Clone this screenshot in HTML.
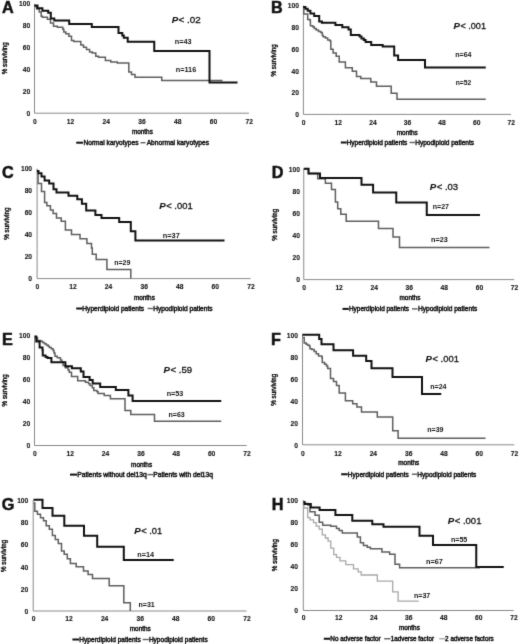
<!DOCTYPE html>
<html><head><meta charset="utf-8"><style>
html,body{margin:0;padding:0;background:#fff;}
svg{display:block;}
text{font-family:"Liberation Sans",sans-serif;fill:#111;stroke:#111;stroke-width:0.42px;}
</style></head><body>
<svg width="520" height="644" viewBox="0 0 520 644">
<defs><filter id="soft" color-interpolation-filters="sRGB" x="0" y="0" width="1" height="1"><feConvolveMatrix order="3" kernelMatrix="0.0114 0.084 0.0114 0.084 0.618 0.084 0.0114 0.084 0.0114" divisor="1" edgeMode="duplicate"/></filter></defs>
<g filter="url(#soft)">
<rect width="520" height="644" fill="#fff"/>
<line x1="34.50" y1="3.95" x2="34.50" y2="113.20" stroke="#8a8a8a" stroke-width="1.0"/>
<line x1="34.50" y1="113.20" x2="249.00" y2="113.20" stroke="#8a8a8a" stroke-width="1.0"/>
<text x="30.20" y="115.70" font-size="6.7" text-anchor="end" font-weight="bold" style="stroke-width:0.1px">0</text>
<text x="30.20" y="93.75" font-size="6.7" text-anchor="end" font-weight="bold" style="stroke-width:0.1px">20</text>
<text x="30.20" y="71.80" font-size="6.7" text-anchor="end" font-weight="bold" style="stroke-width:0.1px">40</text>
<text x="30.20" y="49.85" font-size="6.7" text-anchor="end" font-weight="bold" style="stroke-width:0.1px">60</text>
<text x="30.20" y="27.90" font-size="6.7" text-anchor="end" font-weight="bold" style="stroke-width:0.1px">80</text>
<text x="30.20" y="5.95" font-size="6.7" text-anchor="end" font-weight="bold" style="stroke-width:0.1px">100</text>
<text x="34.80" y="123.50" font-size="6.7" text-anchor="middle" font-weight="bold" style="stroke-width:0.1px">0</text>
<text x="70.55" y="123.50" font-size="6.7" text-anchor="middle" font-weight="bold" style="stroke-width:0.1px">12</text>
<text x="106.30" y="123.50" font-size="6.7" text-anchor="middle" font-weight="bold" style="stroke-width:0.1px">24</text>
<text x="142.05" y="123.50" font-size="6.7" text-anchor="middle" font-weight="bold" style="stroke-width:0.1px">36</text>
<text x="177.80" y="123.50" font-size="6.7" text-anchor="middle" font-weight="bold" style="stroke-width:0.1px">48</text>
<text x="213.55" y="123.50" font-size="6.7" text-anchor="middle" font-weight="bold" style="stroke-width:0.1px">60</text>
<text x="249.30" y="123.50" font-size="6.7" text-anchor="middle" font-weight="bold" style="stroke-width:0.1px">72</text>
<text x="142.40" y="134.34" font-size="6.4" text-anchor="middle" font-weight="normal" textLength="21.00" lengthAdjust="spacingAndGlyphs">months</text>
<text transform="translate(6.85,58.25) rotate(-90)" font-size="6.8" text-anchor="middle" textLength="32.2" lengthAdjust="spacingAndGlyphs">% surviving</text>
<text x="1.95" y="12.80" font-size="16.2" text-anchor="start" font-weight="bold" style="stroke-width:0.5px">A</text>
<text x="171.65" y="23.29" font-size="9.6" font-style="italic" font-weight="bold" style="stroke-width:0.1px">P</text>
<text x="178.60" y="23.29" font-size="9.6" style="stroke-width:0.3px" textLength="22.20" lengthAdjust="spacingAndGlyphs">&lt; .02</text>
<text x="174.70" y="44.18" font-size="7.2" text-anchor="start" font-weight="bold" textLength="16.85" lengthAdjust="spacingAndGlyphs" style="stroke-width:0">n=43</text>
<text x="175.70" y="72.28" font-size="7.2" text-anchor="start" font-weight="bold" textLength="20.60" lengthAdjust="spacingAndGlyphs" style="stroke-width:0">n=116</text>
<line x1="76.25" y1="142.70" x2="83.00" y2="142.70" stroke="#111" stroke-width="2.0"/>
<text x="83.45" y="144.96" font-size="6.3" text-anchor="start" font-weight="normal" textLength="55.10" lengthAdjust="spacingAndGlyphs">Normal karyotypes</text>
<line x1="140.50" y1="142.70" x2="145.50" y2="142.70" stroke="#5e5e5e" stroke-width="1.4"/>
<text x="146.70" y="144.96" font-size="6.3" text-anchor="start" font-weight="normal" textLength="62.30" lengthAdjust="spacingAndGlyphs">Abnormal karyotypes</text>
<path d="M34.70,6.50H36.60V8.80H39.30V11.90H41.20V16.20H42.40V17.30H47.40V19.20H50.50V23.10H53.50V26.20H57.40V27.30H62.80V29.20H63.80V31.90H65.80V33.80H68.90V36.20H71.50V40.40H73.80V41.50H80.80V45.00H83.50V47.30H86.50V49.60H89.60V51.90H92.30V53.10H95.80V56.20H98.50V57.30H105.40V60.40H110.80V61.90H117.30V63.10H128.80V71.90H131.50V74.60H135.00V77.30H161.75V80.50H222.50" fill="none" stroke="#5e5e5e" stroke-width="1.5" stroke-linejoin="miter" stroke-linecap="butt"/>
<path d="M34.30,5.40H37.50V8.30H42.40V10.80H48.20V12.70H50.80V18.50H54.30V20.60H69.20V24.00H91.80V26.90H118.50V33.10H122.30V35.40H123.80V37.70H127.70V41.80H154.25V51.00H209.50V82.50H237.50" fill="none" stroke="#111" stroke-width="2.0" stroke-linejoin="miter" stroke-linecap="butt"/>
<line x1="303.40" y1="5.50" x2="303.40" y2="114.40" stroke="#8a8a8a" stroke-width="1.0"/>
<line x1="303.40" y1="114.40" x2="511.00" y2="114.40" stroke="#8a8a8a" stroke-width="1.0"/>
<text x="299.00" y="117.00" font-size="6.7" text-anchor="end" font-weight="bold" style="stroke-width:0.1px">0</text>
<text x="299.00" y="95.28" font-size="6.7" text-anchor="end" font-weight="bold" style="stroke-width:0.1px">20</text>
<text x="299.00" y="73.56" font-size="6.7" text-anchor="end" font-weight="bold" style="stroke-width:0.1px">40</text>
<text x="299.00" y="51.84" font-size="6.7" text-anchor="end" font-weight="bold" style="stroke-width:0.1px">60</text>
<text x="299.00" y="30.12" font-size="6.7" text-anchor="end" font-weight="bold" style="stroke-width:0.1px">80</text>
<text x="299.00" y="8.40" font-size="6.7" text-anchor="end" font-weight="bold" style="stroke-width:0.1px">100</text>
<text x="303.70" y="124.50" font-size="6.7" text-anchor="middle" font-weight="bold" style="stroke-width:0.1px">0</text>
<text x="338.30" y="124.50" font-size="6.7" text-anchor="middle" font-weight="bold" style="stroke-width:0.1px">12</text>
<text x="372.90" y="124.50" font-size="6.7" text-anchor="middle" font-weight="bold" style="stroke-width:0.1px">24</text>
<text x="407.50" y="124.50" font-size="6.7" text-anchor="middle" font-weight="bold" style="stroke-width:0.1px">36</text>
<text x="442.10" y="124.50" font-size="6.7" text-anchor="middle" font-weight="bold" style="stroke-width:0.1px">48</text>
<text x="476.70" y="124.50" font-size="6.7" text-anchor="middle" font-weight="bold" style="stroke-width:0.1px">60</text>
<text x="511.30" y="124.50" font-size="6.7" text-anchor="middle" font-weight="bold" style="stroke-width:0.1px">72</text>
<text x="407.25" y="135.34" font-size="6.4" text-anchor="middle" font-weight="normal" textLength="21.00" lengthAdjust="spacingAndGlyphs">months</text>
<text transform="translate(275.80,60.45) rotate(-90)" font-size="6.8" text-anchor="middle" textLength="32.2" lengthAdjust="spacingAndGlyphs">% surviving</text>
<text x="270.95" y="12.80" font-size="16.2" text-anchor="start" font-weight="bold" style="stroke-width:0.5px">B</text>
<text x="453.50" y="28.84" font-size="9.6" font-style="italic" font-weight="bold" style="stroke-width:0.1px">P</text>
<text x="460.45" y="28.84" font-size="9.6" style="stroke-width:0.3px" textLength="25.50" lengthAdjust="spacingAndGlyphs">&lt; .001</text>
<text x="455.20" y="57.28" font-size="7.2" text-anchor="start" font-weight="bold" textLength="16.35" lengthAdjust="spacingAndGlyphs" style="stroke-width:0">n=64</text>
<text x="455.70" y="85.28" font-size="7.2" text-anchor="start" font-weight="bold" textLength="15.60" lengthAdjust="spacingAndGlyphs" style="stroke-width:0">n=52</text>
<line x1="340.80" y1="142.50" x2="346.80" y2="142.50" stroke="#111" stroke-width="2.0"/>
<text x="346.70" y="144.76" font-size="6.3" text-anchor="start" font-weight="normal" textLength="60.60" lengthAdjust="spacingAndGlyphs">Hyperdiploid patients</text>
<line x1="409.60" y1="142.50" x2="415.00" y2="142.50" stroke="#5e5e5e" stroke-width="1.4"/>
<text x="415.20" y="144.76" font-size="6.3" text-anchor="start" font-weight="normal" textLength="58.90" lengthAdjust="spacingAndGlyphs">Hypodiploid patients</text>
<path d="M303.20,8.40H303.80V14.00H307.70V19.50H310.00V20.30H310.40V25.70H312.70V26.80H314.20V28.40H316.20V29.90H318.50V31.50H320.80V32.60H322.30V35.30H323.10V36.80H325.40V38.00H327.70V39.90H330.00V41.10H330.80V49.20H333.10V53.10H336.20V56.20H339.20V62.00H345.40V67.70H352.30V71.20H356.50V76.50H360.80V78.60H370.80V81.90H376.50V86.30H391.20V93.30H397.00V99.20H485.75" fill="none" stroke="#5e5e5e" stroke-width="1.5" stroke-linejoin="miter" stroke-linecap="butt"/>
<path d="M303.10,7.00H305.40V8.80H307.70V10.70H310.40V13.40H314.20V16.10H319.20V21.50H321.90V22.80H335.40V24.90H342.30V27.30H348.50V29.60H350.80V35.00H359.60V36.50H361.50V38.50H363.80V40.00H365.60V41.90H371.20V45.10H382.70V46.60H394.20V55.40H398.10V60.00H425.00V67.50H485.75" fill="none" stroke="#111" stroke-width="2.0" stroke-linejoin="miter" stroke-linecap="butt"/>
<line x1="37.10" y1="168.60" x2="37.10" y2="278.60" stroke="#8a8a8a" stroke-width="1.0"/>
<line x1="37.10" y1="278.60" x2="250.60" y2="278.60" stroke="#8a8a8a" stroke-width="1.0"/>
<text x="32.10" y="281.00" font-size="6.7" text-anchor="end" font-weight="bold" style="stroke-width:0.1px">0</text>
<text x="32.10" y="259.03" font-size="6.7" text-anchor="end" font-weight="bold" style="stroke-width:0.1px">20</text>
<text x="32.10" y="237.06" font-size="6.7" text-anchor="end" font-weight="bold" style="stroke-width:0.1px">40</text>
<text x="32.10" y="215.09" font-size="6.7" text-anchor="end" font-weight="bold" style="stroke-width:0.1px">60</text>
<text x="32.10" y="193.12" font-size="6.7" text-anchor="end" font-weight="bold" style="stroke-width:0.1px">80</text>
<text x="32.10" y="171.15" font-size="6.7" text-anchor="end" font-weight="bold" style="stroke-width:0.1px">100</text>
<text x="37.40" y="288.50" font-size="6.7" text-anchor="middle" font-weight="bold" style="stroke-width:0.1px">0</text>
<text x="72.98" y="288.50" font-size="6.7" text-anchor="middle" font-weight="bold" style="stroke-width:0.1px">12</text>
<text x="108.57" y="288.50" font-size="6.7" text-anchor="middle" font-weight="bold" style="stroke-width:0.1px">24</text>
<text x="144.15" y="288.50" font-size="6.7" text-anchor="middle" font-weight="bold" style="stroke-width:0.1px">36</text>
<text x="179.73" y="288.50" font-size="6.7" text-anchor="middle" font-weight="bold" style="stroke-width:0.1px">48</text>
<text x="215.32" y="288.50" font-size="6.7" text-anchor="middle" font-weight="bold" style="stroke-width:0.1px">60</text>
<text x="250.90" y="288.50" font-size="6.7" text-anchor="middle" font-weight="bold" style="stroke-width:0.1px">72</text>
<text x="144.40" y="299.84" font-size="6.4" text-anchor="middle" font-weight="normal" textLength="21.00" lengthAdjust="spacingAndGlyphs">months</text>
<text transform="translate(9.40,223.65) rotate(-90)" font-size="6.8" text-anchor="middle" textLength="32.2" lengthAdjust="spacingAndGlyphs">% surviving</text>
<text x="1.95" y="177.90" font-size="16.2" text-anchor="start" font-weight="bold" style="stroke-width:0.5px">C</text>
<text x="159.25" y="209.09" font-size="9.6" font-style="italic" font-weight="bold" style="stroke-width:0.1px">P</text>
<text x="166.20" y="209.09" font-size="9.6" style="stroke-width:0.3px" textLength="26.50" lengthAdjust="spacingAndGlyphs">&lt; .001</text>
<text x="162.70" y="237.88" font-size="7.2" text-anchor="start" font-weight="bold" textLength="17.10" lengthAdjust="spacingAndGlyphs" style="stroke-width:0">n=37</text>
<text x="114.20" y="265.28" font-size="7.2" text-anchor="start" font-weight="bold" textLength="16.10" lengthAdjust="spacingAndGlyphs" style="stroke-width:0">n=29</text>
<line x1="76.20" y1="308.50" x2="82.40" y2="308.50" stroke="#111" stroke-width="2.0"/>
<text x="82.30" y="310.76" font-size="6.3" text-anchor="start" font-weight="normal" textLength="61.80" lengthAdjust="spacingAndGlyphs">Hyperdiploid patients</text>
<line x1="147.70" y1="308.50" x2="153.10" y2="308.50" stroke="#5e5e5e" stroke-width="1.4"/>
<text x="153.20" y="310.76" font-size="6.3" text-anchor="start" font-weight="normal" textLength="59.40" lengthAdjust="spacingAndGlyphs">Hypodiploid patients</text>
<path d="M37.30,171.50H38.10V183.50H41.50V191.60H44.60V202.50H46.90V205.80H50.40V210.00H53.10V213.50H56.50V218.10H61.20V221.20H65.40V230.00H71.50V234.40H80.00V238.80H86.90V243.50H91.50V248.00H92.30V254.20H96.20V259.60H106.90V269.60H130.80V278.60H130.80" fill="none" stroke="#5e5e5e" stroke-width="1.5" stroke-linejoin="miter" stroke-linecap="butt"/>
<path d="M36.80,171.00H38.50V173.20H41.50V176.60H44.60V180.50H49.20V183.40H53.50V189.30H56.50V192.60H68.50V195.80H77.30V199.20H81.90V203.80H86.20V210.40H95.40V215.00H101.50V218.10H119.20V221.90H130.80V231.20H135.40V240.50H224.50" fill="none" stroke="#111" stroke-width="2.0" stroke-linejoin="miter" stroke-linecap="butt"/>
<line x1="303.75" y1="168.90" x2="303.75" y2="279.60" stroke="#8a8a8a" stroke-width="1.0"/>
<line x1="303.75" y1="279.60" x2="514.20" y2="279.60" stroke="#8a8a8a" stroke-width="1.0"/>
<text x="300.00" y="282.40" font-size="6.7" text-anchor="end" font-weight="bold" style="stroke-width:0.1px">0</text>
<text x="300.00" y="260.28" font-size="6.7" text-anchor="end" font-weight="bold" style="stroke-width:0.1px">20</text>
<text x="300.00" y="238.16" font-size="6.7" text-anchor="end" font-weight="bold" style="stroke-width:0.1px">40</text>
<text x="300.00" y="216.04" font-size="6.7" text-anchor="end" font-weight="bold" style="stroke-width:0.1px">60</text>
<text x="300.00" y="193.92" font-size="6.7" text-anchor="end" font-weight="bold" style="stroke-width:0.1px">80</text>
<text x="300.00" y="171.80" font-size="6.7" text-anchor="end" font-weight="bold" style="stroke-width:0.1px">100</text>
<text x="304.05" y="290.00" font-size="6.7" text-anchor="middle" font-weight="bold" style="stroke-width:0.1px">0</text>
<text x="339.12" y="290.00" font-size="6.7" text-anchor="middle" font-weight="bold" style="stroke-width:0.1px">12</text>
<text x="374.20" y="290.00" font-size="6.7" text-anchor="middle" font-weight="bold" style="stroke-width:0.1px">24</text>
<text x="409.28" y="290.00" font-size="6.7" text-anchor="middle" font-weight="bold" style="stroke-width:0.1px">36</text>
<text x="444.35" y="290.00" font-size="6.7" text-anchor="middle" font-weight="bold" style="stroke-width:0.1px">48</text>
<text x="479.43" y="290.00" font-size="6.7" text-anchor="middle" font-weight="bold" style="stroke-width:0.1px">60</text>
<text x="514.50" y="290.00" font-size="6.7" text-anchor="middle" font-weight="bold" style="stroke-width:0.1px">72</text>
<text x="410.00" y="300.34" font-size="6.4" text-anchor="middle" font-weight="normal" textLength="21.00" lengthAdjust="spacingAndGlyphs">months</text>
<text transform="translate(276.95,224.75) rotate(-90)" font-size="6.8" text-anchor="middle" textLength="32.2" lengthAdjust="spacingAndGlyphs">% surviving</text>
<text x="271.70" y="177.55" font-size="16.2" text-anchor="start" font-weight="bold" style="stroke-width:0.5px">D</text>
<text x="429.75" y="189.84" font-size="9.6" font-style="italic" font-weight="bold" style="stroke-width:0.1px">P</text>
<text x="436.70" y="189.84" font-size="9.6" style="stroke-width:0.3px" textLength="21.50" lengthAdjust="spacingAndGlyphs">&lt; .03</text>
<text x="432.70" y="209.03" font-size="7.2" text-anchor="start" font-weight="bold" textLength="16.35" lengthAdjust="spacingAndGlyphs" style="stroke-width:0">n=27</text>
<text x="430.95" y="241.53" font-size="7.2" text-anchor="start" font-weight="bold" textLength="16.85" lengthAdjust="spacingAndGlyphs" style="stroke-width:0">n=23</text>
<line x1="342.50" y1="308.90" x2="348.75" y2="308.90" stroke="#111" stroke-width="2.0"/>
<text x="348.95" y="311.16" font-size="6.3" text-anchor="start" font-weight="normal" textLength="60.10" lengthAdjust="spacingAndGlyphs">Hyperdiploid patients</text>
<line x1="412.00" y1="308.90" x2="417.50" y2="308.90" stroke="#5e5e5e" stroke-width="1.4"/>
<text x="417.95" y="311.16" font-size="6.3" text-anchor="start" font-weight="normal" textLength="59.35" lengthAdjust="spacingAndGlyphs">Hypodiploid patients</text>
<path d="M303.80,168.80H308.50V173.50H317.70V178.80H325.40V183.20H331.50V189.60H335.40V201.90H337.70V208.80H340.80V214.20H346.20V221.20H378.50V228.50H393.00V237.00H399.50V247.50H489.50" fill="none" stroke="#5e5e5e" stroke-width="1.5" stroke-linejoin="miter" stroke-linecap="butt"/>
<path d="M303.80,168.80H308.50V173.50H320.00V178.10H361.50V184.70H373.10V192.40H396.25V202.50H426.75V215.00H480.00" fill="none" stroke="#111" stroke-width="2.0" stroke-linejoin="miter" stroke-linecap="butt"/>
<line x1="34.50" y1="335.50" x2="34.50" y2="445.50" stroke="#8a8a8a" stroke-width="1.0"/>
<line x1="34.50" y1="445.50" x2="246.70" y2="445.50" stroke="#8a8a8a" stroke-width="1.0"/>
<text x="30.20" y="448.40" font-size="6.7" text-anchor="end" font-weight="bold" style="stroke-width:0.1px">0</text>
<text x="30.20" y="426.40" font-size="6.7" text-anchor="end" font-weight="bold" style="stroke-width:0.1px">20</text>
<text x="30.20" y="404.40" font-size="6.7" text-anchor="end" font-weight="bold" style="stroke-width:0.1px">40</text>
<text x="30.20" y="382.40" font-size="6.7" text-anchor="end" font-weight="bold" style="stroke-width:0.1px">60</text>
<text x="30.20" y="360.40" font-size="6.7" text-anchor="end" font-weight="bold" style="stroke-width:0.1px">80</text>
<text x="30.20" y="338.40" font-size="6.7" text-anchor="end" font-weight="bold" style="stroke-width:0.1px">100</text>
<text x="34.80" y="455.75" font-size="6.7" text-anchor="middle" font-weight="bold" style="stroke-width:0.1px">0</text>
<text x="70.17" y="455.75" font-size="6.7" text-anchor="middle" font-weight="bold" style="stroke-width:0.1px">12</text>
<text x="105.53" y="455.75" font-size="6.7" text-anchor="middle" font-weight="bold" style="stroke-width:0.1px">24</text>
<text x="140.90" y="455.75" font-size="6.7" text-anchor="middle" font-weight="bold" style="stroke-width:0.1px">36</text>
<text x="176.27" y="455.75" font-size="6.7" text-anchor="middle" font-weight="bold" style="stroke-width:0.1px">48</text>
<text x="211.63" y="455.75" font-size="6.7" text-anchor="middle" font-weight="bold" style="stroke-width:0.1px">60</text>
<text x="247.00" y="455.75" font-size="6.7" text-anchor="middle" font-weight="bold" style="stroke-width:0.1px">72</text>
<text x="141.60" y="466.59" font-size="6.4" text-anchor="middle" font-weight="normal" textLength="21.00" lengthAdjust="spacingAndGlyphs">months</text>
<text transform="translate(6.80,390.30) rotate(-90)" font-size="6.8" text-anchor="middle" textLength="32.2" lengthAdjust="spacingAndGlyphs">% surviving</text>
<text x="1.95" y="344.55" font-size="16.2" text-anchor="start" font-weight="bold" style="stroke-width:0.5px">E</text>
<text x="163.50" y="373.09" font-size="9.6" font-style="italic" font-weight="bold" style="stroke-width:0.1px">P</text>
<text x="170.45" y="373.09" font-size="9.6" style="stroke-width:0.3px" textLength="21.75" lengthAdjust="spacingAndGlyphs">&lt; .59</text>
<text x="166.70" y="395.53" font-size="7.2" text-anchor="start" font-weight="bold" textLength="16.60" lengthAdjust="spacingAndGlyphs" style="stroke-width:0">n=53</text>
<text x="168.45" y="417.28" font-size="7.2" text-anchor="start" font-weight="bold" textLength="16.35" lengthAdjust="spacingAndGlyphs" style="stroke-width:0">n=63</text>
<line x1="70.00" y1="474.60" x2="77.00" y2="474.60" stroke="#111" stroke-width="2.0"/>
<text x="77.20" y="476.86" font-size="6.3" text-anchor="start" font-weight="normal" textLength="69.60" lengthAdjust="spacingAndGlyphs">Patients without del13q</text>
<line x1="147.50" y1="474.60" x2="153.00" y2="474.60" stroke="#5e5e5e" stroke-width="1.4"/>
<text x="153.30" y="476.86" font-size="6.3" text-anchor="start" font-weight="normal" textLength="59.70" lengthAdjust="spacingAndGlyphs">Patients with del13q</text>
<path d="M34.80,337.50H37.50V340.60H40.60V341.25H42.50V342.50H44.40V343.75H46.25V345.00H48.10V346.25H49.40V347.50H51.25V348.75H53.10V350.60H54.00V353.10H55.00V356.20H57.30V357.70H60.40V360.00H61.80V362.00H63.10V365.40H65.40V367.70H68.10V370.00H69.20V372.30H71.50V376.50H77.70V380.80H85.40V382.30H88.50V383.80H90.00V385.40H92.30V387.70H93.80V390.40H97.00V391.70H98.10V393.50H104.20V395.40H110.40V398.80H125.00V410.40H130.80V414.60H154.50V421.25H221.25" fill="none" stroke="#5e5e5e" stroke-width="1.5" stroke-linejoin="miter" stroke-linecap="butt"/>
<path d="M34.80,336.50H36.25V341.50H39.60V347.50H42.50V350.00H42.75V355.60H45.60V356.90H47.50V358.10H51.40V362.30H65.40V366.20H71.90V368.30H80.80V371.50H83.50V376.90H89.60V380.00H92.70V383.50H100.20V386.90H115.80V390.00H128.40V395.40H132.60V401.00H221.25" fill="none" stroke="#111" stroke-width="2.0" stroke-linejoin="miter" stroke-linecap="butt"/>
<line x1="302.50" y1="335.10" x2="302.50" y2="444.80" stroke="#8a8a8a" stroke-width="1.0"/>
<line x1="302.50" y1="444.80" x2="514.25" y2="444.80" stroke="#8a8a8a" stroke-width="1.0"/>
<text x="298.00" y="447.80" font-size="6.7" text-anchor="end" font-weight="bold" style="stroke-width:0.1px">0</text>
<text x="298.00" y="425.82" font-size="6.7" text-anchor="end" font-weight="bold" style="stroke-width:0.1px">20</text>
<text x="298.00" y="403.84" font-size="6.7" text-anchor="end" font-weight="bold" style="stroke-width:0.1px">40</text>
<text x="298.00" y="381.86" font-size="6.7" text-anchor="end" font-weight="bold" style="stroke-width:0.1px">60</text>
<text x="298.00" y="359.88" font-size="6.7" text-anchor="end" font-weight="bold" style="stroke-width:0.1px">80</text>
<text x="298.00" y="337.90" font-size="6.7" text-anchor="end" font-weight="bold" style="stroke-width:0.1px">100</text>
<text x="302.80" y="455.50" font-size="6.7" text-anchor="middle" font-weight="bold" style="stroke-width:0.1px">0</text>
<text x="338.09" y="455.50" font-size="6.7" text-anchor="middle" font-weight="bold" style="stroke-width:0.1px">12</text>
<text x="373.38" y="455.50" font-size="6.7" text-anchor="middle" font-weight="bold" style="stroke-width:0.1px">24</text>
<text x="408.68" y="455.50" font-size="6.7" text-anchor="middle" font-weight="bold" style="stroke-width:0.1px">36</text>
<text x="443.97" y="455.50" font-size="6.7" text-anchor="middle" font-weight="bold" style="stroke-width:0.1px">48</text>
<text x="479.26" y="455.50" font-size="6.7" text-anchor="middle" font-weight="bold" style="stroke-width:0.1px">60</text>
<text x="514.55" y="455.50" font-size="6.7" text-anchor="middle" font-weight="bold" style="stroke-width:0.1px">72</text>
<text x="408.75" y="465.34" font-size="6.4" text-anchor="middle" font-weight="normal" textLength="21.00" lengthAdjust="spacingAndGlyphs">months</text>
<text transform="translate(275.55,389.75) rotate(-90)" font-size="6.8" text-anchor="middle" textLength="32.2" lengthAdjust="spacingAndGlyphs">% surviving</text>
<text x="270.95" y="344.55" font-size="16.2" text-anchor="start" font-weight="bold" style="stroke-width:0.5px">F</text>
<text x="425.50" y="361.84" font-size="9.6" font-style="italic" font-weight="bold" style="stroke-width:0.1px">P</text>
<text x="432.45" y="361.84" font-size="9.6" style="stroke-width:0.3px" textLength="26.50" lengthAdjust="spacingAndGlyphs">&lt; .001</text>
<text x="430.20" y="388.53" font-size="7.2" text-anchor="start" font-weight="bold" textLength="16.35" lengthAdjust="spacingAndGlyphs" style="stroke-width:0">n=24</text>
<text x="427.20" y="432.28" font-size="7.2" text-anchor="start" font-weight="bold" textLength="16.35" lengthAdjust="spacingAndGlyphs" style="stroke-width:0">n=39</text>
<line x1="341.20" y1="474.25" x2="347.70" y2="474.25" stroke="#111" stroke-width="2.0"/>
<text x="347.80" y="476.51" font-size="6.3" text-anchor="start" font-weight="normal" textLength="61.00" lengthAdjust="spacingAndGlyphs">Hyperdiploid patients</text>
<line x1="411.90" y1="474.25" x2="417.10" y2="474.25" stroke="#5e5e5e" stroke-width="1.4"/>
<text x="417.30" y="476.51" font-size="6.3" text-anchor="start" font-weight="normal" textLength="59.10" lengthAdjust="spacingAndGlyphs">Hypodiploid patients</text>
<path d="M302.80,337.40H304.20V343.00H306.20V344.20H307.70V345.30H309.60V346.50H310.00V348.80H311.90V349.50H314.20V351.50H316.20V353.80H318.50V356.10H321.90V357.60H322.30V362.60H324.60V364.20H326.50V366.10H327.70V368.60H330.50V378.50H333.50V381.50H336.50V385.40H339.20V392.90H345.40V400.80H352.70V403.80H356.90V406.90H361.50V411.90H377.30V416.90H392.70V430.80H398.10V438.20H485.50" fill="none" stroke="#5e5e5e" stroke-width="1.5" stroke-linejoin="miter" stroke-linecap="butt"/>
<path d="M302.30,334.80H319.20V338.90H321.50V344.30H333.50V350.20H353.10V355.80H366.20V360.90H371.50V368.20H392.50V377.00H422.00V394.00H441.25" fill="none" stroke="#111" stroke-width="2.0" stroke-linejoin="miter" stroke-linecap="butt"/>
<line x1="33.20" y1="500.10" x2="33.20" y2="611.00" stroke="#8a8a8a" stroke-width="1.0"/>
<line x1="33.20" y1="611.00" x2="246.60" y2="611.00" stroke="#8a8a8a" stroke-width="1.0"/>
<text x="28.30" y="614.00" font-size="6.7" text-anchor="end" font-weight="bold" style="stroke-width:0.1px">0</text>
<text x="28.30" y="591.80" font-size="6.7" text-anchor="end" font-weight="bold" style="stroke-width:0.1px">20</text>
<text x="28.30" y="569.60" font-size="6.7" text-anchor="end" font-weight="bold" style="stroke-width:0.1px">40</text>
<text x="28.30" y="547.40" font-size="6.7" text-anchor="end" font-weight="bold" style="stroke-width:0.1px">60</text>
<text x="28.30" y="525.20" font-size="6.7" text-anchor="end" font-weight="bold" style="stroke-width:0.1px">80</text>
<text x="28.30" y="503.00" font-size="6.7" text-anchor="end" font-weight="bold" style="stroke-width:0.1px">100</text>
<text x="33.50" y="621.25" font-size="6.7" text-anchor="middle" font-weight="bold" style="stroke-width:0.1px">0</text>
<text x="69.07" y="621.25" font-size="6.7" text-anchor="middle" font-weight="bold" style="stroke-width:0.1px">12</text>
<text x="104.63" y="621.25" font-size="6.7" text-anchor="middle" font-weight="bold" style="stroke-width:0.1px">24</text>
<text x="140.20" y="621.25" font-size="6.7" text-anchor="middle" font-weight="bold" style="stroke-width:0.1px">36</text>
<text x="175.77" y="621.25" font-size="6.7" text-anchor="middle" font-weight="bold" style="stroke-width:0.1px">48</text>
<text x="211.33" y="621.25" font-size="6.7" text-anchor="middle" font-weight="bold" style="stroke-width:0.1px">60</text>
<text x="246.90" y="621.25" font-size="6.7" text-anchor="middle" font-weight="bold" style="stroke-width:0.1px">72</text>
<text x="140.25" y="631.34" font-size="6.4" text-anchor="middle" font-weight="normal" textLength="21.00" lengthAdjust="spacingAndGlyphs">months</text>
<text transform="translate(6.45,555.95) rotate(-90)" font-size="6.8" text-anchor="middle" textLength="32.2" lengthAdjust="spacingAndGlyphs">% surviving</text>
<text x="1.70" y="509.80" font-size="16.2" text-anchor="start" font-weight="bold" style="stroke-width:0.5px">G</text>
<text x="134.25" y="533.84" font-size="9.6" font-style="italic" font-weight="bold" style="stroke-width:0.1px">P</text>
<text x="141.20" y="533.84" font-size="9.6" style="stroke-width:0.3px" textLength="21.00" lengthAdjust="spacingAndGlyphs">&lt; .01</text>
<text x="137.20" y="557.28" font-size="7.2" text-anchor="start" font-weight="bold" textLength="16.85" lengthAdjust="spacingAndGlyphs" style="stroke-width:0">n=14</text>
<text x="138.45" y="606.88" font-size="7.2" text-anchor="start" font-weight="bold" textLength="16.35" lengthAdjust="spacingAndGlyphs" style="stroke-width:0">n=31</text>
<line x1="72.40" y1="639.50" x2="79.20" y2="639.50" stroke="#111" stroke-width="2.0"/>
<text x="79.30" y="641.76" font-size="6.3" text-anchor="start" font-weight="normal" textLength="61.40" lengthAdjust="spacingAndGlyphs">Hyperdiploid patients</text>
<line x1="142.70" y1="639.50" x2="148.80" y2="639.50" stroke="#5e5e5e" stroke-width="1.4"/>
<text x="148.90" y="641.76" font-size="6.3" text-anchor="start" font-weight="normal" textLength="58.80" lengthAdjust="spacingAndGlyphs">Hypodiploid patients</text>
<path d="M33.60,503.00H34.80V511.20H37.40V514.20H40.50V517.70H43.50V520.80H46.20V525.80H49.30V529.20H52.40V535.40H55.30V539.50H58.30V543.60H61.50V551.10H64.20V554.30H67.30V558.80H70.40V563.40H76.20V566.80H83.50V571.10H88.10V574.50H92.50V578.60H109.20V585.80H123.80V602.70H130.30V611.00H130.30" fill="none" stroke="#5e5e5e" stroke-width="1.5" stroke-linejoin="miter" stroke-linecap="butt"/>
<path d="M33.50,499.80H42.50V508.00H52.50V515.70H64.30V525.70H84.00V535.70H97.20V546.70H123.80V559.90H173.75" fill="none" stroke="#111" stroke-width="2.0" stroke-linejoin="miter" stroke-linecap="butt"/>
<line x1="303.30" y1="500.10" x2="303.30" y2="610.50" stroke="#8a8a8a" stroke-width="1.0"/>
<line x1="303.30" y1="610.50" x2="513.60" y2="610.50" stroke="#8a8a8a" stroke-width="1.0"/>
<text x="298.00" y="612.90" font-size="6.7" text-anchor="end" font-weight="bold" style="stroke-width:0.1px">0</text>
<text x="298.00" y="590.92" font-size="6.7" text-anchor="end" font-weight="bold" style="stroke-width:0.1px">20</text>
<text x="298.00" y="568.94" font-size="6.7" text-anchor="end" font-weight="bold" style="stroke-width:0.1px">40</text>
<text x="298.00" y="546.96" font-size="6.7" text-anchor="end" font-weight="bold" style="stroke-width:0.1px">60</text>
<text x="298.00" y="524.98" font-size="6.7" text-anchor="end" font-weight="bold" style="stroke-width:0.1px">80</text>
<text x="298.00" y="503.00" font-size="6.7" text-anchor="end" font-weight="bold" style="stroke-width:0.1px">100</text>
<text x="303.60" y="620.00" font-size="6.7" text-anchor="middle" font-weight="bold" style="stroke-width:0.1px">0</text>
<text x="338.65" y="620.00" font-size="6.7" text-anchor="middle" font-weight="bold" style="stroke-width:0.1px">12</text>
<text x="373.70" y="620.00" font-size="6.7" text-anchor="middle" font-weight="bold" style="stroke-width:0.1px">24</text>
<text x="408.75" y="620.00" font-size="6.7" text-anchor="middle" font-weight="bold" style="stroke-width:0.1px">36</text>
<text x="443.80" y="620.00" font-size="6.7" text-anchor="middle" font-weight="bold" style="stroke-width:0.1px">48</text>
<text x="478.85" y="620.00" font-size="6.7" text-anchor="middle" font-weight="bold" style="stroke-width:0.1px">60</text>
<text x="513.90" y="620.00" font-size="6.7" text-anchor="middle" font-weight="bold" style="stroke-width:0.1px">72</text>
<text x="409.40" y="629.84" font-size="6.4" text-anchor="middle" font-weight="normal" textLength="21.00" lengthAdjust="spacingAndGlyphs">months</text>
<text transform="translate(276.50,555.05) rotate(-90)" font-size="6.8" text-anchor="middle" textLength="32.2" lengthAdjust="spacingAndGlyphs">% surviving</text>
<text x="271.70" y="509.55" font-size="16.2" text-anchor="start" font-weight="bold" style="stroke-width:0.5px">H</text>
<text x="447.75" y="524.34" font-size="9.6" font-style="italic" font-weight="bold" style="stroke-width:0.1px">P</text>
<text x="454.70" y="524.34" font-size="9.6" style="stroke-width:0.3px" textLength="26.75" lengthAdjust="spacingAndGlyphs">&lt; .001</text>
<text x="450.95" y="541.78" font-size="7.2" text-anchor="start" font-weight="bold" textLength="16.35" lengthAdjust="spacingAndGlyphs" style="stroke-width:0">n=55</text>
<text x="425.95" y="564.28" font-size="7.2" text-anchor="start" font-weight="bold" textLength="16.85" lengthAdjust="spacingAndGlyphs" style="stroke-width:0">n=67</text>
<text x="413.95" y="598.03" font-size="7.2" text-anchor="start" font-weight="bold" textLength="16.35" lengthAdjust="spacingAndGlyphs" style="stroke-width:0">n=37</text>
<line x1="323.80" y1="638.75" x2="330.30" y2="638.75" stroke="#111" stroke-width="2.0"/>
<text x="330.30" y="641.01" font-size="6.3" text-anchor="start" font-weight="normal" textLength="50.30" lengthAdjust="spacingAndGlyphs">No adverse factor</text>
<line x1="384.20" y1="638.75" x2="390.50" y2="638.75" stroke="#5e5e5e" stroke-width="1.4"/>
<text x="390.80" y="641.01" font-size="6.3" text-anchor="start" font-weight="normal" textLength="43.20" lengthAdjust="spacingAndGlyphs">1adverse factor</text>
<line x1="439.20" y1="638.75" x2="445.00" y2="638.75" stroke="#a8a8a8" stroke-width="1.4"/>
<text x="445.10" y="641.01" font-size="6.3" text-anchor="start" font-weight="normal" textLength="48.60" lengthAdjust="spacingAndGlyphs">2 adverse factors</text>
<path d="M303.80,504.20H304.00V508.00H307.70V517.60H310.00V519.90H313.50V522.60H316.20V526.10H319.20V529.20H322.30V534.90H325.40V538.00H328.10V541.20H330.80V548.10H333.80V554.60H336.50V557.30H340.00V560.80H345.80V564.60H353.50V568.80H358.10V571.90H361.20V575.00H377.30V581.20H392.70V591.90H398.10V601.10H418.80" fill="none" stroke="#a8a8a8" stroke-width="1.3" stroke-linejoin="miter" stroke-linecap="butt"/>
<path d="M303.80,503.40H307.70V505.00H310.00V511.80H315.00V515.30H319.20V522.20H322.70V525.30H330.80V526.20H336.50V528.50H339.20V530.40H342.30V533.10H357.30V536.90H360.40V542.70H363.50V545.40H367.30V547.30H370.40V548.80H381.90V551.90H389.60V554.20H395.00V564.20H399.60V567.80H480.00" fill="none" stroke="#5e5e5e" stroke-width="1.5" stroke-linejoin="miter" stroke-linecap="butt"/>
<path d="M303.40,502.00H304.60V503.90H310.80V507.60H319.60V509.90H335.40V515.10H352.30V520.80H372.30V524.20H383.50V526.80H419.50V535.75H433.00V545.00H476.25V567.00H503.75" fill="none" stroke="#111" stroke-width="2.0" stroke-linejoin="miter" stroke-linecap="butt"/>
</g>
</svg>
</body></html>
